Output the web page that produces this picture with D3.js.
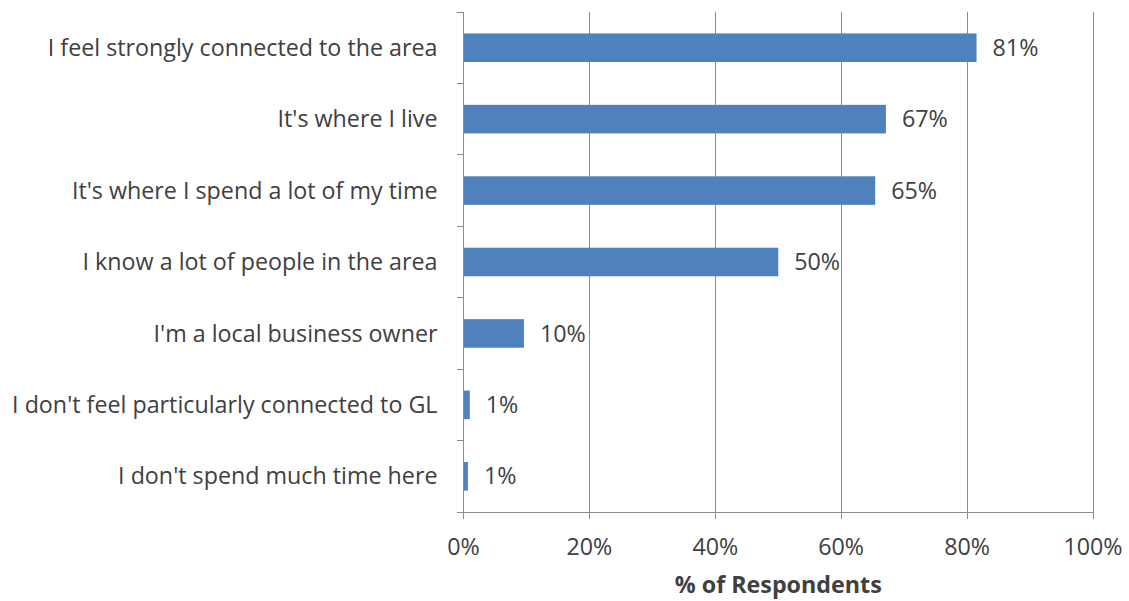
<!DOCTYPE html>
<html><head><meta charset="utf-8">
<script src="https://cdn.jsdelivr.net/npm/d3@7"></script>
<style>body{margin:0;background:#fff}svg{display:block}text{font-family:"Open Sans","Noto Sans",sans-serif;fill:#404040}</style>
</head><body>
<script>
const categories = ["I feel strongly connected to the area","It's where I live","It's where I spend a lot of my time","I know a lot of people in the area","I'm a local business owner","I don't feel particularly connected to GL","I don't spend much time here"];
const values = [81.5, 67.1, 65.4, 50.0, 9.6, 1.0, 0.7];
const valueLabels = ["81%","67%","65%","50%","10%","1%","1%"];
const xTicks = [0,20,40,60,80,100];
const axisTitle = "% of Respondents";

const W=1129,H=601;
const m={left:463.5,top:12,right:1093,bottom:512};
const svg=d3.select("body").append("svg").attr("width",W).attr("height",H);
const x=d3.scaleLinear().domain([0,100]).range([m.left,m.right]);
const y=d3.scaleBand().domain(categories).range([m.top,m.bottom]).paddingInner(0.6).paddingOuter(0.3);
const band=(m.bottom-m.top)/categories.length;
const grid="#8c8c8c";
// measure font size so the longest label matches the reference width (~390px)
const probe=svg.append("text").attr("font-size",20).text(categories[0]);
const fs=Math.max(16,Math.min(24,20*390/probe.node().getComputedTextLength()));
probe.remove();
// gridlines
svg.append("g").selectAll("line").data(xTicks.slice(1)).join("line")
 .attr("x1",d=>x(d)).attr("x2",d=>x(d)).attr("y1",m.top).attr("y2",m.bottom+7)
 .attr("stroke",grid).attr("stroke-width",1).attr("shape-rendering","crispEdges");
// bars
svg.append("g").selectAll("rect").data(values).join("rect")
 .attr("x",x(0)).attr("y",(d,i)=>y(categories[i])).attr("width",d=>x(d)-x(0)).attr("height",y.bandwidth())
 .attr("fill","#4F81BD");
// y axis
svg.append("line").attr("x1",m.left).attr("x2",m.left).attr("y1",m.top).attr("y2",m.bottom+7).attr("stroke",grid).attr("shape-rendering","crispEdges");
svg.append("g").selectAll("line").data(d3.range(categories.length+1)).join("line")
 .attr("x1",m.left-7).attr("x2",m.left).attr("y1",i=>m.top+i*band).attr("y2",i=>m.top+i*band)
 .attr("stroke",grid).attr("shape-rendering","crispEdges");
// x axis
svg.append("line").attr("x1",m.left-7).attr("x2",m.right).attr("y1",m.bottom).attr("y2",m.bottom).attr("stroke",grid).attr("shape-rendering","crispEdges");
// category labels
svg.append("g").selectAll("text").data(categories).join("text")
 .attr("x",m.left-26).attr("y",d=>y(d)+y.bandwidth()/2).attr("dy","0.35em")
 .attr("text-anchor","end").attr("font-size",fs).text(d=>d);
// value labels
svg.append("g").selectAll("text").data(values).join("text")
 .attr("x",d=>x(d)+16).attr("y",(d,i)=>y(categories[i])+y.bandwidth()/2).attr("dy","0.35em")
 .attr("font-size",fs).text((d,i)=>valueLabels[i]);
// x tick labels
svg.append("g").selectAll("text").data(xTicks).join("text")
 .attr("x",d=>x(d)).attr("y",555).attr("text-anchor","middle").attr("font-size",fs).text(d=>d+"%");
svg.append("text").attr("x",(m.left+m.right)/2).attr("y",593).attr("text-anchor","middle")
 .attr("font-size",fs).attr("font-weight","bold").text(axisTitle);
</script>
</body></html>
